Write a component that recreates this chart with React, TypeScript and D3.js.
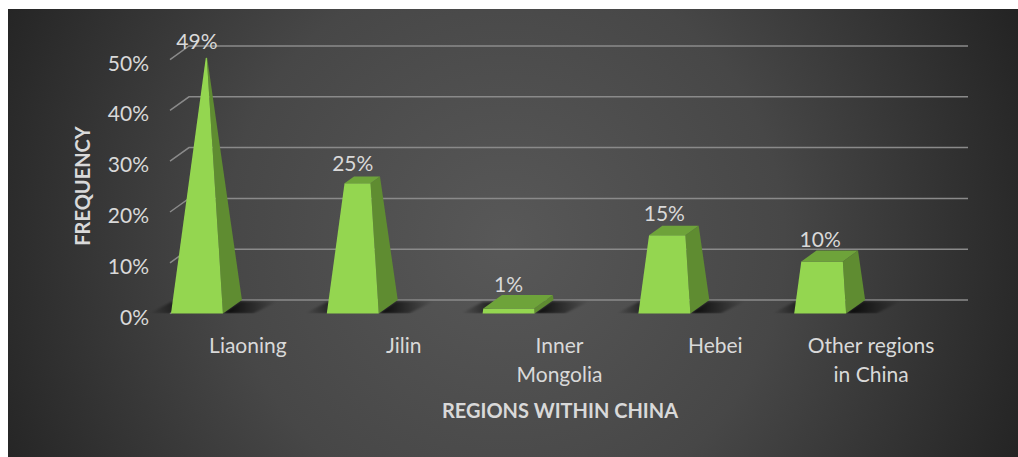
import React from "react";
import * as d3 from "d3";

const categories: string[][] = [
  ["Liaoning"],
  ["Jilin"],
  ["Inner", "Mongolia"],
  ["Hebei"],
  ["Other regions", "in China"],
];
const values: number[] = [0.49, 0.25, 0.01, 0.15, 0.1];
const valueLabels: string[] = ["49%", "25%", "1%", "15%", "10%"];
const yTicks: number[] = [0, 0.1, 0.2, 0.3, 0.4, 0.5];
const yTitle = "FREQUENCY";
const xTitle = "REGIONS WITHIN CHINA";

const W = 1018;
const H = 457;
const DX = 19;
const DY = -13.6;
const FONT = "Lato, 'Open Sans', sans-serif";
const TEXT = "#d9d9d9";

export default function App() {
  const keys = categories.map((c) => c.join(" "));
  const x = d3.scaleBand<string>().domain(keys).range([170, 949]);
  const yF = d3.scaleLinear().domain([0, 0.5]).range([313.6, 59.6]);
  const maxV = 0.5;
  const bw = x.bandwidth() / 3;

  const P = (px: number, z: number, h: number) => [px + z * DX, yF(h) + z * DY];
  const poly = (pts: number[][]) => pts.map((p) => p.join(",")).join(" ");

  return (
    <svg width={W} height={H} style={{ position: "absolute", left: 0, top: 0 }}>
      <defs>
        <radialGradient id="bg" cx="505" cy="240" r="620" gradientUnits="userSpaceOnUse">
          <stop offset="0" stopColor="#585858" />
          <stop offset="0.45" stopColor="#474747" />
          <stop offset="1" stopColor="#1c1c1c" />
        </radialGradient>
        <linearGradient id="shR" x1="0" x2="1" y1="0" y2="0">
          <stop offset="0" stopColor="#000" stopOpacity="0.9" />
          <stop offset="1" stopColor="#000" stopOpacity="0" />
        </linearGradient>
        <linearGradient id="shL" x1="1" x2="0" y1="0" y2="0">
          <stop offset="0" stopColor="#000" stopOpacity="0.75" />
          <stop offset="1" stopColor="#000" stopOpacity="0" />
        </linearGradient>
        <filter id="blur" x="-20%" y="-50%" width="140%" height="200%">
          <feGaussianBlur stdDeviation="1" />
        </filter>
        <clipPath id="floor">
          <rect x={0} y={0} width={W} height={313.6} />
        </clipPath>
      </defs>
      <rect x={8} y={9} width={W - 8} height={H - 9} fill="url(#bg)" />

      {yTicks.map((t) => {
        const a = P(170, 0, t);
        const b = P(170, 1, t);
        const c = P(949, 1, t);
        return (
          <polyline
            key={t}
            points={poly([a, b, c])}
            fill="none"
            stroke="#8a8a8a"
            strokeWidth={1.5}
          />
        );
      })}

      {yTicks.map((t) => (
        <text
          key={"l" + t}
          x={149}
          y={yF(t) + 2.5}
          textAnchor="end"
          dominantBaseline="central"
          fontFamily={FONT}
          fontSize={21}
          fill={TEXT}
        >
          {d3.format(".0%")(t)}
        </text>
      ))}

      {keys.map((k, i) => {
        const v = values[i];
        const L = (x(k) as number) + 1;
        const cx = L + bw / 2;
        const R = L + bw;
        const f = 1 - v / maxV;
        const s = (f * bw) / 2;
        const zs = f * 0.5;
        const front = [P(L, 0, 0), P(R, 0, 0), P(cx + s, 0.5 - zs, v), P(cx - s, 0.5 - zs, v)];
        const right = [P(R, 0, 0), P(R, 1, 0), P(cx + s, 0.5 + zs, v), P(cx + s, 0.5 - zs, v)];
        const top = [
          P(cx - s, 0.5 - zs, v),
          P(cx + s, 0.5 - zs, v),
          P(cx + s, 0.5 + zs, v),
          P(cx - s, 0.5 + zs, v),
        ];
        const shadowR = [P(R, 0, 0), P(R, 0.9, 0), P(R + 38, 0.9, 0), P(R + 30, 0, 0)];
        const shadowL = [P(L - 22, 0, 0), P(L, 0, 0), P(L, 0.85, 0), P(L - 16, 0.85, 0)];
        return (
          <g key={k}>
            <g clipPath="url(#floor)">
              <polygon points={poly(shadowL)} fill="url(#shL)" filter="url(#blur)" />
              <polygon points={poly(shadowR)} fill="url(#shR)" filter="url(#blur)" />
            </g>
            <polygon points={poly(right)} fill="#5f8c31" />
            <polygon points={poly(front)} fill="#94d650" />
            <polygon points={poly(top)} fill="#6ea33a" />
            <text
              x={cx}
              y={yF(v) + DY - 11}
              textAnchor="middle"
              dominantBaseline="central"
              fontFamily={FONT}
              fontSize={21}
              fill={TEXT}
            >
              {valueLabels[i]}
            </text>
          </g>
        );
      })}

      {keys.map((k, i) => (
        <text
          key={"c" + k}
          x={(x(k) as number) + x.bandwidth() / 2}
          y={353}
          textAnchor="middle"
          fontFamily={FONT}
          fontSize={21}
          fill={TEXT}
        >
          {categories[i].map((line, j) => (
            <tspan key={j} x={(x(k) as number) + x.bandwidth() / 2} dy={j === 0 ? 0 : 29}>
              {line}
            </tspan>
          ))}
        </text>
      ))}

      <text
        x={560}
        y={418}
        textAnchor="middle"
        fontFamily={FONT}
        fontWeight="bold"
        fontSize={20}
        fill={TEXT}
      >
        {xTitle}
      </text>
      <text
        transform="translate(90,186) rotate(-90)"
        textAnchor="middle"
        fontFamily={FONT}
        fontWeight="bold"
        fontSize={20}
        fill={TEXT}
      >
        {yTitle}
      </text>
    </svg>
  );
}
